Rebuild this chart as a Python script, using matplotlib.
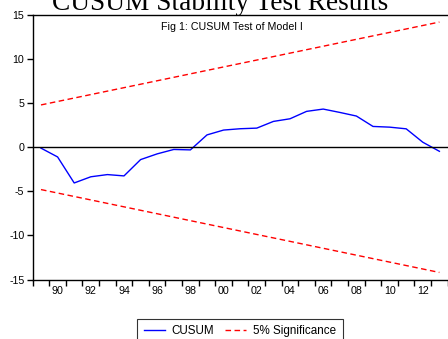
import numpy as np
import matplotlib
matplotlib.use('Agg')
import matplotlib.pyplot as plt

# CUSUM statistic, 1989-2013
years = list(range(1989, 2014))
cusum = [-0.1, -1.1, -4.05, -3.35, -3.1, -3.25, -1.4, -0.75, -0.25, -0.3,
         1.4, 1.95, 2.1, 2.17, 2.93, 3.23, 4.07, 4.33, 3.95, 3.54,
         2.36, 2.28, 2.09, 0.57, -0.46]
# 5% significance bounds (straight lines)
sig_years = [1989, 2013]
sig_upper = [4.8, 14.2]
sig_lower = [-4.8, -14.2]

yticks = [-15, -10, -5, 0, 5, 10, 15]
label_years = list(range(1990, 2013, 2))
labels = ['%02d' % (y % 100) for y in label_years]

plt.rcParams['font.family'] = ['Liberation Sans', 'DejaVu Sans']

fig = plt.figure(figsize=(4.48, 3.39), dpi=100)
ax = fig.add_axes([32.7/448, 1-279.5/339, (447.7-32.7)/448, (279.5-15)/339])

ax.plot(years, cusum, color='#0000ff', lw=1.0, label='CUSUM')
ax.plot(sig_years, sig_upper, color='#ff0000', lw=1.0, ls=(0, (4, 2.5)), label='5% Significance')
ax.plot(sig_years, sig_lower, color='#ff0000', lw=1.0, ls=(0, (4, 2.5)))
ax.axhline(0, color='black', lw=1.0)

ax.set_xlim(1988.5, 2013.5)
ax.set_ylim(-15, 15)
ax.set_yticks(yticks)
ax.set_yticklabels([str(v) for v in yticks], fontsize=7.7)

# year boundaries as major ticks, labels between them
ax.set_xticks(np.arange(1988.5, 2014, 1.0))
ax.set_xticklabels([])
ax.set_xticks(label_years, minor=True)
ax.set_xticklabels(labels, minor=True, fontsize=7.7)
ax.tick_params(axis='x', which='major', direction='out', length=4, width=1)
ax.tick_params(axis='x', which='minor', length=0, pad=5)
ax.tick_params(axis='y', direction='out', length=4, width=1, pad=2)

ax.spines['right'].set_visible(False)
for s in ['left', 'top', 'bottom']:
    ax.spines[s].set_linewidth(1.0)

ax.text(0.48, 0.975, 'Fig 1: CUSUM Test of Model I', transform=ax.transAxes,
        ha='center', va='top', fontsize=7.7)

fig.text(220/448, 1-9.5/339, 'CUSUM Stability Test Results', ha='center', va='baseline',
         fontsize=19.7, family='Liberation Serif')

leg = fig.legend(loc='upper center', bbox_to_anchor=(240/448, 1-318.5/339), ncol=2,
                 frameon=True, fancybox=False, fontsize=8.4, handlelength=1.8,
                 columnspacing=0.95, handletextpad=0.6, borderpad=0.55,
                 borderaxespad=0)
leg.get_frame().set_edgecolor('black')
leg.get_frame().set_linewidth(0.8)

fig.savefig('out.png', dpi=100)
